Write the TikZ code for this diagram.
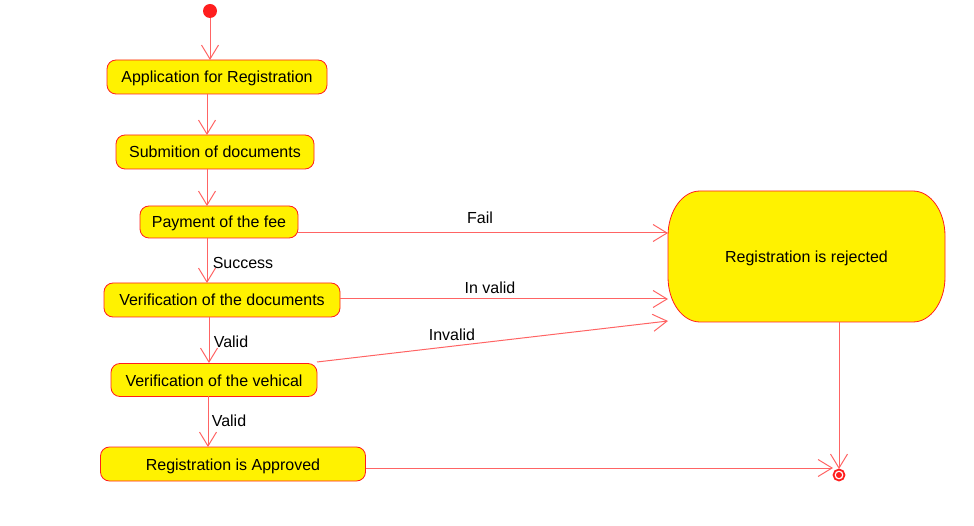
\documentclass[tikz,border=0pt]{standalone}
\usepackage{fontspec}
\setmainfont{Liberation Sans}
\usetikzlibrary{arrows.meta}
\definecolor{nodered}{RGB}{255,30,30}
\definecolor{linered}{RGB}{255,100,100}
\begin{document}
\begin{tikzpicture}[x=1pt,y=-1pt,
  every node/.style={font=\fontsize{16}{18}\selectfont},
  act/.style={draw=nodered,fill=yellow,line width=0.8pt,rounded corners=9pt,inner sep=0pt,anchor=center,text height=13.5pt,text depth=1.5pt},
  flow/.style={draw=linered,line width=1pt,-{Straight Barb[length=14pt,width=17pt,line width=1pt]}},
  lbl/.style={inner sep=1pt}]
\useasboundingbox (0,0) rectangle (974,526);
\fill[nodered] (210,11) circle (7);
\coordinate (start) at (210,18);
\node[act,minimum width=220pt,minimum height=34pt] (app) at (217,77) {Application for Registration};
\node[act,minimum width=198pt,minimum height=34pt] (sub) at (215,152) {Submition of documents};
\node[act,minimum width=158pt,minimum height=32pt] (pay) at (219,222) {Payment of the fee};
\node[act,minimum width=236pt,minimum height=34pt] (vdoc) at (222,300) {Verification of the documents};
\node[act,minimum width=206pt,minimum height=33pt] (vveh) at (214,380) {Verification of the vehical};
\node[act,minimum width=265pt,minimum height=34pt] (appr) at (233,464) {Registration is Approved};
\node[inner sep=0pt,minimum width=277pt,minimum height=131pt] (rej) at (806.5,256.5) {};
\path[draw=nodered,fill=yellow,line width=0.8pt]
  (700,191) -- (913,191)
  arc[start angle=-90,end angle=0,x radius=32,y radius=45] -- (945,277)
  arc[start angle=0,end angle=90,x radius=32,y radius=45] -- (700,322)
  arc[start angle=90,end angle=180,x radius=32,y radius=45] -- (668,236)
  arc[start angle=180,end angle=270,x radius=32,y radius=45] -- cycle;
\node[text height=13.5pt,text depth=1.5pt,inner sep=0pt] (rejtext) at (rej.center) {Registration is rejected};
\draw[nodered,line width=1.8pt,fill=white] (839,475) circle (5.5);
\fill[nodered] (839,475) circle (3);
\coordinate (endc) at (839,475);

\draw[flow] (start) -- (210,60);
\draw[flow] (207,94) -- (207,135);
\draw[flow] (207,169) -- (207,206);
\draw[flow] (207,238) -- (207,283);
\draw[flow] (209,317) -- (209,363);
\draw[flow] (208,396) -- (208,447);
\draw[flow] (298,233) -- (668,233);
\draw[flow] (340,299) -- (668,299);
\draw[flow] (317,362) -- (668,321);
\draw[flow] (366,468) -- (833,468);
\draw[flow] (839,322) -- (839,469);

\node[lbl] (ls) at (243,263) {Success};
\node[lbl] (lv1) at (231,342) {Valid};
\node[lbl] (lv2) at (229,421) {Valid};
\node[lbl] (lf) at (480,218) {Fail};
\node[lbl] (liv) at (490,288) {In valid};
\node[lbl] (linv) at (452,335) {Invalid};
\end{tikzpicture}
\end{document}
